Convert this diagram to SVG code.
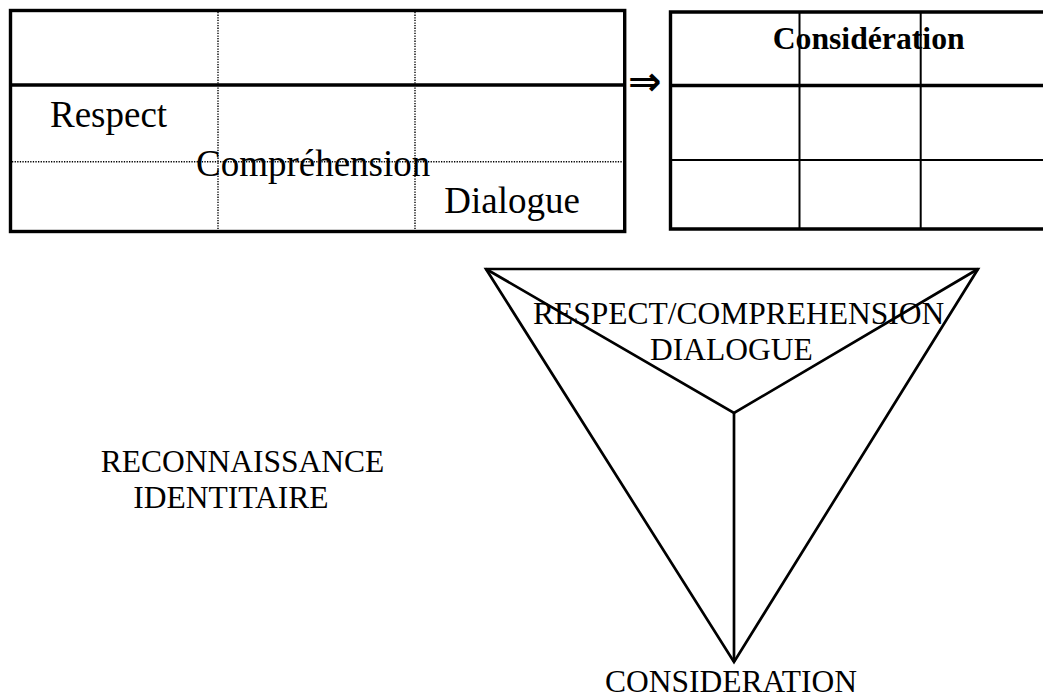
<svg xmlns="http://www.w3.org/2000/svg" width="1043" height="698" viewBox="0 0 1043 698">
<style>
.t{font-family:"Liberation Serif","Times New Roman",serif;fill:#000}
.thick{stroke:#000;stroke-width:3.4;fill:none}
.thin{stroke:#000;stroke-width:2;fill:none}
.dot{stroke:#000;stroke-width:1.4;stroke-dasharray:1.3 1.3;fill:none}
.tri{stroke:#000;stroke-width:2.7;fill:none;stroke-linejoin:miter}
</style>
<rect width="1043" height="698" fill="#fff"/>
<g id="table-left">
<line class="dot" x1="218" y1="12" x2="218" y2="230"/>
<line class="dot" x1="415" y1="12" x2="415" y2="230"/>
<line class="dot" x1="12" y1="161.7" x2="623" y2="161.7"/>
<rect class="thick" x="10.5" y="10.5" width="614.2" height="221"/>
<line class="thick" x1="10.5" y1="85" x2="624.7" y2="85"/>
<text class="t" x="50" y="126.7" font-size="37">Respect</text>
<text class="t" x="196" y="175.5" font-size="37">Compréhension</text>
<text class="t" x="444.3" y="212.7" font-size="37">Dialogue</text>
</g>
<g id="arrow">
<text x="628" y="95" font-family="DejaVu Sans,sans-serif" font-weight="bold" font-size="40">⇒</text>
</g>
<g id="table-right">
<line class="thin" x1="799.5" y1="12" x2="799.5" y2="229"/>
<line class="thin" x1="920.7" y1="12" x2="920.7" y2="229"/>
<line class="thin" x1="670.5" y1="160" x2="1050" y2="160"/>
<path class="thick" d="M1050 12 H670.5 V229 H1050" stroke-width="3.6"/>
<line class="thick" x1="670.5" y1="85.5" x2="1050" y2="85.5" stroke-width="3.6"/>
<text class="t" x="772.7" y="49.3" font-size="31.7" font-weight="bold">Considération</text>
</g>
<g id="triangle">
<polygon class="tri" points="486,269 978,269 734,662"/>
<polyline class="tri" points="486,269 734,413 978,269"/>
<line class="tri" x1="734" y1="413" x2="734" y2="662"/>
<text class="t" x="533" y="324" font-size="31.5">RESPECT/COMPREHENSION</text>
<text class="t" x="650" y="360" font-size="31.5">DIALOGUE</text>
<text class="t" x="605" y="691.7" font-size="31.5">CONSIDERATION</text>
</g>
<g id="reconnaissance">
<text class="t" x="100.7" y="471.7" font-size="31.5">RECONNAISSANCE</text>
<text class="t" x="133.3" y="508.3" font-size="31.5">IDENTITAIRE</text>
</g>
<g id="connectors"></g>
</svg>
